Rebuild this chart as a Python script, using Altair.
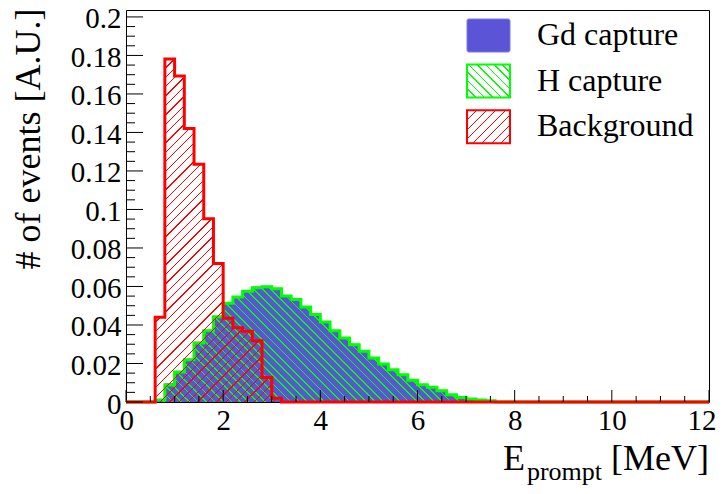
import math
import altair as alt
import pandas as pd

# ---------------- data ----------------
BIN_WIDTH = 0.2
X_RANGE = [0.0, 12.0]
Y_RANGE = [0.0, 0.2036]

gd_start = 0.6
gd_values = [0.0012, 0.0095, 0.0158, 0.0222, 0.0310, 0.0372, 0.0441, 0.0511,
             0.0545, 0.0577, 0.0597, 0.0601, 0.0590, 0.0553, 0.0532, 0.0494,
             0.0455, 0.0415, 0.0370, 0.0331, 0.0300, 0.0263, 0.0229, 0.0197,
             0.0167, 0.0141, 0.0114, 0.0090, 0.0075, 0.0060, 0.0038, 0.0024,
             0.0016, 0.0010, 0.0006]

h_start = 0.6
h_values = [0.0010, 0.0088, 0.0156, 0.0220, 0.0307, 0.0370, 0.0443, 0.0513,
            0.0546, 0.0575, 0.0594, 0.0598, 0.0588, 0.0551, 0.0532, 0.0493,
            0.0454, 0.0416, 0.0370, 0.0332, 0.0298, 0.0263, 0.0229, 0.0197,
            0.0168, 0.0142, 0.0113, 0.0090, 0.0076, 0.0059, 0.0038, 0.0024,
            0.0016, 0.0010, 0.0007]

bg_start = 0.6
bg_values = [0.0440, 0.1782, 0.1693, 0.1420, 0.1235, 0.0952, 0.0720, 0.0435,
             0.0386, 0.0368, 0.0318, 0.0127, 0.0019]

x_major_ticks = [0, 2, 4, 6, 8, 10, 12]
x_minor_ticks = [0.5 * i for i in range(1, 24) if i % 4]
y_major_ticks = [0, 0.02, 0.04, 0.06, 0.08, 0.1, 0.12, 0.14, 0.16, 0.18, 0.2]
y_minor_ticks = [round(0.005 * i, 3) for i in range(1, 41) if i % 4]

legend_labels = ["Gd capture", "H capture", "Background"]
y_title = "# of events [A.U.]"
x_title_main = "E"
x_title_sub = "prompt"
x_title_unit = "[MeV]"

# ---------------- styling / layout ----------------
PLOT_W, PLOT_H = 583, 392
FONT = "Liberation Serif"
RED, GREEN, BLUE = "#ff0000", "#00ff00", "#5b54d6"
BLUE_LINE = "#7b78e8"

px_x = PLOT_W / (X_RANGE[1] - X_RANGE[0])
px_y = PLOT_H / (Y_RANGE[1] - Y_RANGE[0])

nbins = int(round((X_RANGE[1] - X_RANGE[0]) / BIN_WIDTH))
edges = [round(X_RANGE[0] + i * BIN_WIDTH, 6) for i in range(nbins + 1)]


def full_hist(start, vals):
    i0 = int(round((start - X_RANGE[0]) / BIN_WIDTH))
    full = [0.0] * nbins
    for k, v in enumerate(vals):
        full[i0 + k] = v
    return full


def line_df(start, vals):
    return pd.DataFrame({"x": edges, "y": full_hist(start, vals) + [0.0]})


def area_df(start, vals):
    xv = [round(start + k * BIN_WIDTH, 6) for k in range(len(vals) + 1)]
    return pd.DataFrame({"x": xv, "y": list(vals) + [0.0]})


def hatch_fill(w, h, period, lw, color, clear, direction):
    diag = (w + h) / math.sqrt(2)
    n = max(1, int(round(diag / period)))
    frac = min(0.9, lw * n / diag)
    k = (w + h) / (w * w + h * h)
    stops = []
    for i in range(n):
        a, b, c = i / n, (i + frac) / n, (i + 1) / n
        stops += [
            {"offset": round(a, 6), "color": color},
            {"offset": round(b, 6), "color": color},
            {"offset": round(b, 6), "color": clear},
            {"offset": round(c, 6), "color": clear},
        ]
    if direction == "/":
        x1, y1, x2, y2 = 0, 0, k * w, k * h
    else:
        x1, y1, x2, y2 = 0, 1, k * w, 1 - k * h
    return {"gradient": "linear", "stops": stops,
            "x1": x1, "y1": y1, "x2": round(x2, 6), "y2": round(y2, 6)}


def bbox(vals):
    return len(vals) * BIN_WIDTH * px_x, max(vals) * px_y


RED_CLEAR = "rgba(255,0,0,0)"
GREEN_CLEAR = "rgba(0,255,0,0)"

xs = alt.Scale(domain=X_RANGE, nice=False, zero=False)
ys = alt.Scale(domain=Y_RANGE, nice=False, zero=False)

AX_X = alt.Axis(
    values=x_major_ticks, format="d", title=None, labelFont=FONT,
    labelFontSize=29, labelColor="black", labelPadding=4,
    labelFlush=True, labelFlushOffset=7, labelOverlap=False,
    ticks=False, tickSize=0, domain=False, grid=False)
AX_Y = alt.Axis(
    values=y_major_ticks, format="~g", title=y_title, labelFont=FONT,
    labelFontSize=29, labelColor="black", labelPadding=5, labelOffset=2,
    labelFlush=False, labelOverlap=False, ticks=False, tickSize=0,
    domain=False, grid=False, titleFont=FONT, titleFontSize=36,
    titleFontWeight="normal", titleColor="black", titleAngle=270,
    titleAnchor="end", titleAlign="right", titleBaseline="alphabetic",
    titleX=-87, titleY=-2)


def X(field):
    return alt.X(field, scale=xs, axis=AX_X)


def Y(field):
    return alt.Y(field, scale=ys, axis=AX_Y)


# Gd capture: solid fill
gd_area = alt.Chart(area_df(gd_start, gd_values)).mark_area(
    interpolate="step-after", fill=BLUE, opacity=1, clip=True
).encode(x=X("x:Q"), y=Y("y:Q"))
gd_line = alt.Chart(line_df(gd_start, gd_values)).mark_line(
    interpolate="step-after", color=BLUE_LINE, strokeWidth=1, clip=True
).encode(x=X("x:Q"), y=Y("y:Q"))

# H capture: green hatch + thick green outline
hw, hh = bbox(h_values)
h_area = alt.Chart(area_df(h_start, h_values)).mark_area(
    interpolate="step-after", opacity=1, clip=True,
    fill=hatch_fill(hw, hh, 6.0, 1.2, GREEN, GREEN_CLEAR, "\\")
).encode(x=X("x:Q"), y=Y("y:Q"))
h_line = alt.Chart(line_df(h_start, h_values)).mark_line(
    interpolate="step-after", color=GREEN, strokeWidth=3, clip=False
).encode(x=X("x:Q"), y=Y("y:Q"))

# Background: red hatch + thick red outline
bw, bh = bbox(bg_values)
bg_area = alt.Chart(area_df(bg_start, bg_values)).mark_area(
    interpolate="step-after", opacity=1, clip=True,
    fill=hatch_fill(bw, bh, 6.6, 0.9, RED, RED_CLEAR, "/")
).encode(x=X("x:Q"), y=Y("y:Q"))
bg_line = alt.Chart(line_df(bg_start, bg_values)).mark_line(
    interpolate="step-after", color=RED, strokeWidth=3, clip=False
).encode(x=X("x:Q"), y=Y("y:Q"))

# inward ticks (ROOT style)
Y_MAJ_LEN, Y_MIN_LEN, X_MAJ_LEN, X_MIN_LEN = 17, 9, 12, 6


def yticks(vals, length):
    return alt.Chart(pd.DataFrame({"v": vals})).mark_rule(
        color="black", strokeWidth=1
    ).encode(y=Y("v:Q"), x=alt.value(0), x2=alt.value(length))


def xticks(vals, length):
    return alt.Chart(pd.DataFrame({"v": vals})).mark_rule(
        color="black", strokeWidth=1
    ).encode(x=X("v:Q"), y=alt.value(PLOT_H), y2=alt.value(PLOT_H - length))


# legend (manual, so that the hatch patterns can be shown)
LEG_X, LEG_W, LEG_H, LEG_TOP, LEG_STEP = 341, 43, 33, 9, 45.6
TEXT_X = 411
leg_fills = [
    {"fill": BLUE, "stroke": BLUE_LINE, "strokeWidth": 1, "cornerRadius": 2},
    {"fill": hatch_fill(LEG_W, LEG_H, 6.0, 1.2, GREEN, GREEN_CLEAR, "\\"),
     "stroke": GREEN, "strokeWidth": 2},
    {"fill": hatch_fill(LEG_W, LEG_H, 6.6, 0.9, RED, RED_CLEAR, "/"),
     "stroke": RED, "strokeWidth": 2},
]
legend_layers = []
for i, (lab, st) in enumerate(zip(legend_labels, leg_fills)):
    top = LEG_TOP + i * LEG_STEP
    d = pd.DataFrame({"label": [lab]})
    legend_layers.append(
        alt.Chart(d).mark_rect(**st).encode(
            x=alt.value(LEG_X), x2=alt.value(LEG_X + LEG_W),
            y=alt.value(top), y2=alt.value(top + LEG_H)))
    legend_layers.append(
        alt.Chart(d).mark_text(font=FONT, fontSize=32, align="left",
                               baseline="alphabetic", color="black").encode(
            x=alt.value(TEXT_X), y=alt.value(top + 26), text="label:N"))

# x title with subscript
title_df = pd.DataFrame({"main": [x_title_main], "sub": [x_title_sub],
                         "unit": [x_title_unit]})
t_unit = alt.Chart(title_df).mark_text(
    font=FONT, fontSize=36, align="right", baseline="alphabetic", color="black"
).encode(x=alt.value(PLOT_W), y=alt.value(PLOT_H + 68), text="unit:N")
t_sub = alt.Chart(title_df).mark_text(
    font=FONT, fontSize=26, align="right", baseline="alphabetic", color="black"
).encode(x=alt.value(PLOT_W - 107), y=alt.value(PLOT_H + 78), text="sub:N")
t_main = alt.Chart(title_df).mark_text(
    font=FONT, fontSize=36, align="right", baseline="alphabetic", color="black"
).encode(x=alt.value(PLOT_W - 184), y=alt.value(PLOT_H + 68), text="main:N")

chart = alt.layer(
    gd_area, gd_line, h_area, h_line, bg_area, bg_line,
    yticks(y_major_ticks, Y_MAJ_LEN), yticks(y_minor_ticks, Y_MIN_LEN),
    xticks(x_major_ticks, X_MAJ_LEN), xticks(x_minor_ticks, X_MIN_LEN),
    *legend_layers, t_unit, t_sub, t_main,
).properties(
    width=PLOT_W, height=PLOT_H,
    padding={"left": 118, "top": 2, "right": 9, "bottom": 84},
    autosize=alt.AutoSizeParams(type="none"),
    background="white",
).configure_view(stroke="black", strokeWidth=1)

chart.save("out.html", embed_options={"renderer": "svg", "actions": False})
